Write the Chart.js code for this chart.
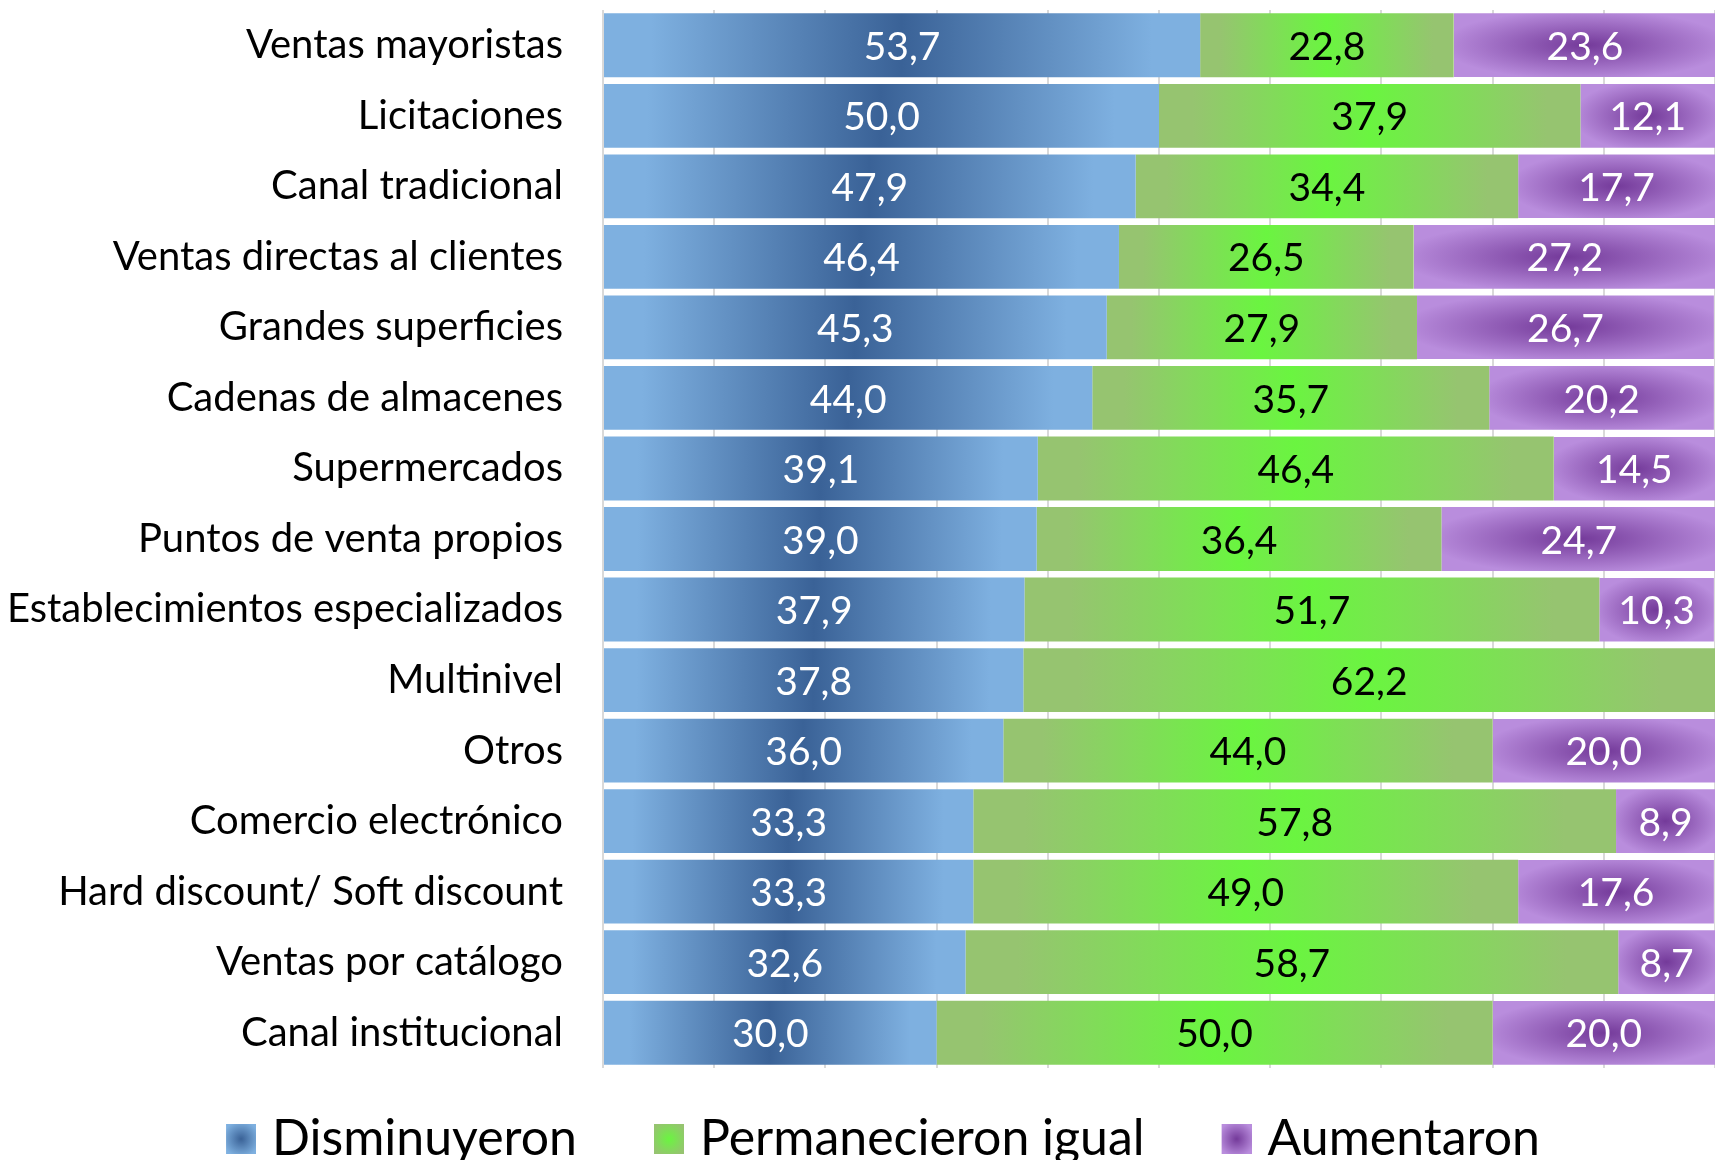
<!DOCTYPE html>
<html>
<head>
<meta charset="utf-8">
<script src="https://cdn.jsdelivr.net/npm/chart.js@4"></script>
<style>
  html, body { margin: 0; padding: 0; background: #fff; }
  #wrap { width: 1715px; height: 1160px; position: relative; }
</style>
</head>
<body>
<div id="wrap"><canvas id="canalesChart"></canvas></div>
<script>
const categories = [
    'Ventas mayoristas', 'Licitaciones', 'Canal tradicional', 'Ventas directas al clientes',
    'Grandes superficies', 'Cadenas de almacenes', 'Supermercados', 'Puntos de venta propios',
    'Establecimientos especializados', 'Multinivel', 'Otros', 'Comercio electrónico',
    'Hard discount/ Soft discount', 'Ventas por catálogo', 'Canal institucional'
];
const disminuyeron  = [53.7, 50.0, 47.9, 46.4, 45.3, 44.0, 39.1, 39.0, 37.9, 37.8, 36.0, 33.3, 33.3, 32.6, 30.0];
const permanecieron = [22.8, 37.9, 34.4, 26.5, 27.9, 35.7, 46.4, 36.4, 51.7, 62.2, 44.0, 57.8, 49.0, 58.7, 50.0];
const aumentaron    = [23.6, 12.1, 17.7, 27.2, 26.7, 20.2, 14.5, 24.7, 10.3, 0, 20.0, 8.9, 17.6, 8.7, 20.0];
const seriesNames = ['Disminuyeron', 'Permanecieron igual', 'Aumentaron'];

// edge / centre colours of each gradient fill
const palette = {
    blue:   { edge: '#7eb0e0', mid: '#3a6297', label: '#ffffff' },
    green:  { edge: '#96c470', mid: '#6af540', label: '#000000' },
    purple: { edge: '#b98ddd', mid: '#743a9a', label: '#ffffff' }
};
const kinds = ['blue', 'green', 'purple'];
const BAR_PCT = 0.905;

function ellipsePattern(ctx, col, x0, x1, y0, y1) {
    const w = Math.max(1, Math.round(x1 - x0));
    const h = Math.max(1, Math.round(y1 - y0));
    const off = document.createElement('canvas');
    off.width = w; off.height = h;
    const g = off.getContext('2d');
    g.translate(w / 2, h / 2);
    g.scale(w / 2, h / 2);
    const rg = g.createRadialGradient(0, 0, 0, 0, 0, 1.1);
    rg.addColorStop(0, col.mid);
    rg.addColorStop(1, col.edge);
    g.fillStyle = rg;
    g.fillRect(-1, -1, 2, 2);
    const pat = ctx.createPattern(off, 'no-repeat');
    pat.setTransform(new DOMMatrix().translate(Math.round(x0), Math.round(y0)));
    return pat;
}

function barFill(kind) {
    return function(c) {
        const col = palette[kind];
        const chart = c.chart;
        if (c.type !== 'data' || !chart.chartArea) return col.edge;
        const xs = chart.scales.x, ys = chart.scales.y;
        const i = c.dataIndex;
        let start = 0;
        for (let k = 0; k < c.datasetIndex; k++) start += chart.data.datasets[k].data[i] || 0;
        const end = start + (c.raw || 0);
        const x0 = xs.getPixelForValue(start), x1 = xs.getPixelForValue(end);
        if (kind === 'purple') {
            const yc = ys.getPixelForValue(i);
            const half = (ys.getPixelForValue(1) - ys.getPixelForValue(0)) * BAR_PCT / 2;
            return ellipsePattern(chart.ctx, col, x0, x1, yc - half, yc + half);
        }
        const grad = chart.ctx.createLinearGradient(x0, 0, x1, 0);
        grad.addColorStop(0, col.edge);
        grad.addColorStop(0.08, col.edge);
        grad.addColorStop(0.5, col.mid);
        grad.addColorStop(0.92, col.edge);
        grad.addColorStop(1, col.edge);
        return grad;
    };
}

// legend swatch: 30x30 square sitting at the right end of a wider transparent image
function swatch(kind) {
    const col = palette[kind];
    const c = document.createElement('canvas');
    c.width = 70; c.height = 30;
    const g = c.getContext('2d');
    const rg = g.createRadialGradient(55, 15, 0, 55, 15, 18);
    rg.addColorStop(0, col.mid);
    rg.addColorStop(1, col.edge);
    g.fillStyle = rg;
    g.fillRect(40, 0, 30, 30);
    return c;
}

const valueLabels = {
    id: 'valueLabels',
    afterLayout(chart) {
        // legend sits a little right of the canvas centre
        if (chart.legend) {
            chart.legend.left += 10;
            chart.legend.right += 10;
        }
    },
    afterDatasetsDraw(chart) {
        const ctx = chart.ctx;
        ctx.save();
        ctx.font = '39px Lato';
        ctx.textAlign = 'center';
        ctx.textBaseline = 'middle';
        chart.data.datasets.forEach((ds, d) => {
            const meta = chart.getDatasetMeta(d);
            meta.data.forEach((bar, j) => {
                const v = ds.data[j];
                if (!v) return;
                const p = bar.getProps(['x', 'base', 'y'], true);
                ctx.fillStyle = palette[kinds[d]].label;
                ctx.fillText(v.toFixed(1).replace('.', ','), (p.x + p.base) / 2, p.y + 2);
            });
        });
        ctx.restore();
    }
};

const seriesData = [disminuyeron, permanecieron, aumentaron];

new Chart(document.getElementById('canalesChart'), {
    type: 'bar',
    data: {
        labels: categories,
        datasets: seriesData.map((arr, d) => ({
            label: seriesNames[d],
            data: arr,
            backgroundColor: barFill(kinds[d]),
            borderWidth: 0,
            barPercentage: BAR_PCT,
            categoryPercentage: 1
        }))
    },
    options: {
        indexAxis: 'y',
        responsive: true,
        maintainAspectRatio: false,
        animation: false,
        layout: { padding: { top: 10, bottom: -14, left: 0, right: 0 } },
        scales: {
            x: {
                stacked: true,
                min: 0,
                max: 100,
                ticks: { display: false, stepSize: 10 },
                grid: { color: '#d9d9d9', lineWidth: 2, drawTicks: false },
                border: { display: false }
            },
            y: {
                stacked: true,
                grid: { display: false, drawTicks: false },
                border: { display: false },
                ticks: { color: '#000', padding: 40, font: { family: 'Lato', size: 40 } },
                afterFit(scale) {
                    scale.width = 603;
                    scale.paddingTop = 0;
                    scale.paddingBottom = 0;
                }
            }
        },
        plugins: {
            tooltip: { enabled: false },
            legend: {
                position: 'bottom',
                labels: {
                    usePointStyle: true,
                    pointStyleWidth: 52,
                    padding: 46,
                    color: '#000',
                    font: { family: 'Lato', size: 50 },
                    generateLabels(chart) {
                        return chart.data.datasets.map((ds, d) => ({
                            text: ds.label,
                            pointStyle: swatch(kinds[d]),
                            fillStyle: palette[kinds[d]].mid,
                            strokeStyle: 'transparent',
                            lineWidth: 0,
                            hidden: false,
                            datasetIndex: d
                        }));
                    }
                }
            }
        }
    },
    plugins: [valueLabels]
});
</script>
</body>
</html>
